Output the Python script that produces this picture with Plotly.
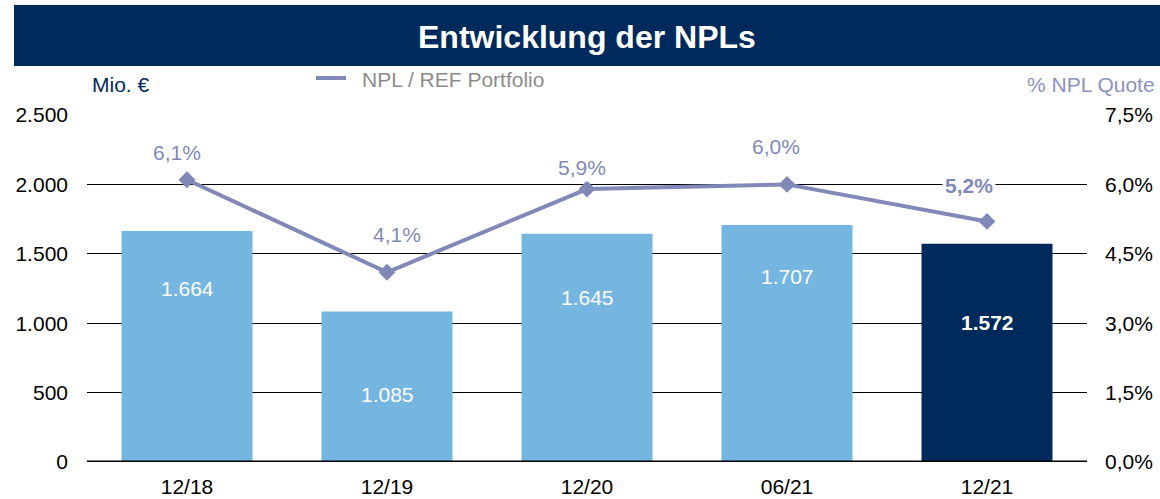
import plotly.graph_objects as go

categories = ["12/18", "12/19", "12/20", "06/21", "12/21"]
npl_volume = [1664, 1085, 1645, 1707, 1572]
npl_quote = [6.1, 4.1, 5.9, 6.0, 5.2]
volume_labels = ["1.664", "1.085", "1.645", "1.707", "1.572"]
quote_labels = ["6,1%", "4,1%", "5,9%", "6,0%", "5,2%"]
left_ticks = [0, 500, 1000, 1500, 2000, 2500]
left_tick_labels = ["0", "500", "1.000", "1.500", "2.000", "2.500"]
right_ticks = [0, 1.5, 3.0, 4.5, 6.0, 7.5]
right_tick_labels = ["0,0%", "1,5%", "3,0%", "4,5%", "6,0%", "7,5%"]

# styling: relative height of bar value labels inside bars, pixel shifts of line labels
label_frac = [0.75, 0.445, 0.72, 0.785, 0.64]
quote_yshift = [27, 38, 22, 38, 36]
quote_xshift = [-10, 10, -5, -11, -18]

NAVY = "#002A5C"
LIGHT = "#74B6E0"
SLATE = "#8189B9"
FONT = "Liberation Sans, Arial, sans-serif"
FS = 21

bar_colors = [LIGHT] * (len(categories) - 1) + [NAVY]

fig = go.Figure()
fig.add_trace(go.Bar(
    x=categories, y=npl_volume, marker=dict(color=bar_colors, line=dict(width=0)),
    showlegend=False, hoverinfo="skip",
))
fig.add_trace(go.Scatter(
    x=categories, y=npl_quote, yaxis="y2", mode="lines+markers",
    line=dict(color=SLATE, width=4), marker=dict(symbol="diamond", size=13, color=SLATE),
    name="NPL / REF Portfolio", showlegend=False, hoverinfo="skip",
))

annotations = []
for i, (c, v, lab) in enumerate(zip(categories, npl_volume, volume_labels)):
    last = i == len(categories) - 1
    annotations.append(dict(
        x=c, y=v * label_frac[i], xref="x", yref="y", showarrow=False,
        xanchor="center", yanchor="middle",
        text=f"<b>{lab}</b>" if last else lab,
        font=dict(family=FONT, size=FS, color="white"),
    ))
for i, (c, q, lab) in enumerate(zip(categories, npl_quote, quote_labels)):
    last = i == len(categories) - 1
    annotations.append(dict(
        x=c, y=q, xref="x", yref="y2", showarrow=False,
        xanchor="center", yanchor="middle",
        yshift=quote_yshift[i], xshift=quote_xshift[i],
        text=f"<b>{lab}</b>" if last else lab, bgcolor="white", borderpad=2,
        font=dict(family=FONT, size=FS, color=SLATE),
    ))

annotations += [
    dict(x=0.5, y=1.2248, xref="paper", yref="paper", xanchor="center", yanchor="middle",
         showarrow=False, text="<b>Entwicklung der NPLs</b>",
         font=dict(family=FONT, size=32, color="white")),
    dict(x=0.003, y=1.0865, xref="paper", yref="paper", xanchor="left", yanchor="middle",
         showarrow=False, text="Mio. €", font=dict(family=FONT, size=FS, color=NAVY)),
    dict(x=1.070, y=1.0865, xref="paper", yref="paper", xanchor="right", yanchor="middle",
         showarrow=False, text="% NPL Quote", font=dict(family=FONT, size=FS, color="#8A93C0")),
    dict(x=0.273, y=1.101, xref="paper", yref="paper", xanchor="left", yanchor="middle",
         showarrow=False, text="NPL / REF Portfolio",
         font=dict(family=FONT, size=FS, color="#8C8C8C")),
]

shapes = [
    dict(type="rect", xref="paper", yref="paper", x0=-0.073, x1=1.073, y0=1.141, y1=1.317,
         fillcolor=NAVY, line=dict(width=0), layer="below"),
    dict(type="line", xref="paper", yref="paper", x0=0.229, x1=0.259, y0=1.1066, y1=1.1066,
         line=dict(color=SLATE, width=4)),
    dict(type="line", xref="paper", yref="y", x0=0, x1=1, y0=0, y1=0,
         line=dict(color="black", width=3)),
]

fig.update_layout(
    width=1160, height=499,
    margin=dict(l=87, r=73, t=115, b=37, autoexpand=False),
    paper_bgcolor="white", plot_bgcolor="white",
    bargap=0.345,
    font=dict(family=FONT, size=FS, color="black"),
    xaxis=dict(type="category", showgrid=False, showline=False, ticks="",
               tickfont=dict(size=FS), range=[-0.5, 4.5], automargin=False,
               ticklabelstandoff=10),
    yaxis=dict(range=[0, 2500], tickvals=left_ticks, ticktext=left_tick_labels,
               showgrid=True, gridcolor="black", gridwidth=1, zeroline=False,
               showline=False, ticks="", ticklabelstandoff=18, automargin=False),
    yaxis2=dict(range=[0, 7.5], tickvals=right_ticks, ticktext=right_tick_labels,
                overlaying="y", side="right", showgrid=False, zeroline=False,
                showline=False, ticks="", ticklabelstandoff=17, automargin=False),
    annotations=annotations,
    shapes=shapes,
)

fig.write_html("out.html", post_script="document.body.style.margin='0px';",
               config={"displayModeBar": False})
